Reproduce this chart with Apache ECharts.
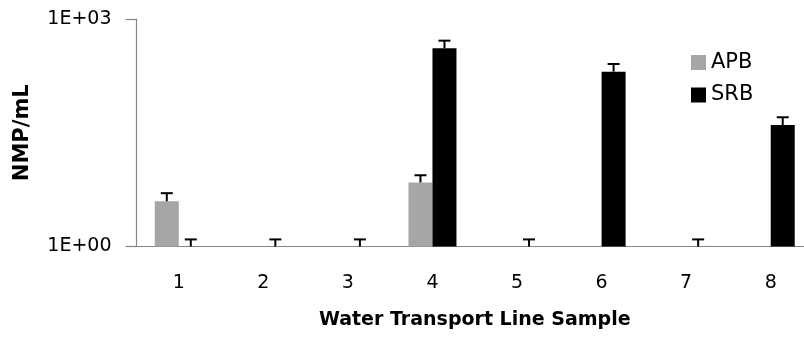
<!DOCTYPE html>
<html>
<head>
<meta charset="utf-8">
<script src="https://cdn.jsdelivr.net/npm/echarts@6/dist/echarts.min.js"></script>
<style>
html,body{margin:0;padding:0;background:#fff;}
#chart{width:804px;height:338px;}
</style>
</head>
<body>
<div id="chart"></div>
<script>
const categories = ['1', '2', '3', '4', '5', '6', '7', '8'];
const apbValues = [3.95, null, null, 7.0, null, null, null, null];
const apbErrors = [1.1, null, null, 1.7, null, null, null, null];
const srbValues = [1, 1, 1, 411, 1, 202, 1, 40];
const srbErrors = [0.24, 0.24, 0.24, 107, 0.24, 53, 0.24, 10.6];
const yTickValues = [1, 1000];
const yTickLabels = ['1E+00', '1E+03'];

const FONT = 'DejaVu Sans';
const BAR_W = 24;

function errData(vals, errs) {
  const out = [];
  vals.forEach((v, i) => {
    if (v != null && errs[i] != null) out.push([i, v, errs[i]]);
  });
  return out;
}

function errRenderer(offset) {
  return function (params, api) {
    const i = api.value(0);
    const v = api.value(1);
    const e = api.value(2);
    const p0 = api.coord([i, v]);
    const p1 = api.coord([i, v + e]);
    const x = p0[0] + offset;
    const style = { stroke: '#000', lineWidth: 2 };
    return {
      type: 'group',
      children: [
        { type: 'line', shape: { x1: x, y1: p0[1], x2: x, y2: p1[1] }, style: style },
        { type: 'line', shape: { x1: x - 6, y1: p1[1], x2: x + 6, y2: p1[1] }, style: style }
      ]
    };
  };
}

const chart = echarts.init(document.getElementById('chart'));
chart.setOption({
  animation: false,
  textStyle: { fontFamily: FONT },
  grid: { left: 136.5, top: 19, width: 676.5, bottom: 91.5, containLabel: false, outerBoundsMode: 'none' },
  legend: {
    orient: 'vertical',
    left: 691,
    top: 52,
    padding: 0,
    itemWidth: 15,
    itemHeight: 15,
    itemGap: 11.5,
    icon: 'rect',
    data: ['APB', 'SRB'],
    textStyle: { fontFamily: FONT, fontSize: 21, color: '#000' }
  },
  xAxis: {
    type: 'category',
    data: categories,
    name: 'Water Transport Line Sample',
    nameLocation: 'middle',
    nameGap: 64,
    nameTextStyle: { fontFamily: FONT, fontSize: 19, fontWeight: 'bold', color: '#000' },
    axisLine: { lineStyle: { color: '#878787', width: 1.2 } },
    axisTick: { show: false },
    axisLabel: { fontFamily: FONT, fontSize: 19, color: '#000', margin: 27 },
    splitLine: { show: false }
  },
  yAxis: {
    type: 'log',
    logBase: 10,
    min: 1,
    max: 1000,
    interval: 3,
    name: 'NMP/mL',
    nameLocation: 'middle',
    nameGap: 103,
    nameTextStyle: { fontFamily: FONT, fontSize: 21, fontWeight: 'bold', color: '#000' },
    axisLine: { show: true, lineStyle: { color: '#878787', width: 1.2 } },
    axisTick: { show: true, length: 11, lineStyle: { color: '#878787', width: 1.2 } },
    axisLabel: {
      fontFamily: FONT, fontSize: 19, color: '#000', margin: 25,
      formatter: function (v) {
        for (let k = 0; k < yTickValues.length; k++) {
          if (Math.abs(v - yTickValues[k]) < 1e-6 * yTickValues[k]) return yTickLabels[k];
        }
        return '';
      }
    },
    splitLine: { show: false },
    minorTick: { show: false }
  },
  series: [
    {
      name: 'APB', type: 'bar', data: apbValues, barWidth: BAR_W, barGap: '0%',
      itemStyle: { color: '#a6a6a6' }
    },
    {
      name: 'SRB', type: 'bar', data: srbValues, barWidth: BAR_W, barGap: '0%',
      itemStyle: { color: '#000000' }
    },
    {
      name: 'APB err', type: 'custom', data: errData(apbValues, apbErrors),
      renderItem: errRenderer(-BAR_W / 2), encode: { x: 0, y: 1 }, z: 5, silent: true
    },
    {
      name: 'SRB err', type: 'custom', data: errData(srbValues, srbErrors),
      renderItem: errRenderer(BAR_W / 2), encode: { x: 0, y: 1 }, z: 5, silent: true
    }
  ]
});
</script>
</body>
</html>
